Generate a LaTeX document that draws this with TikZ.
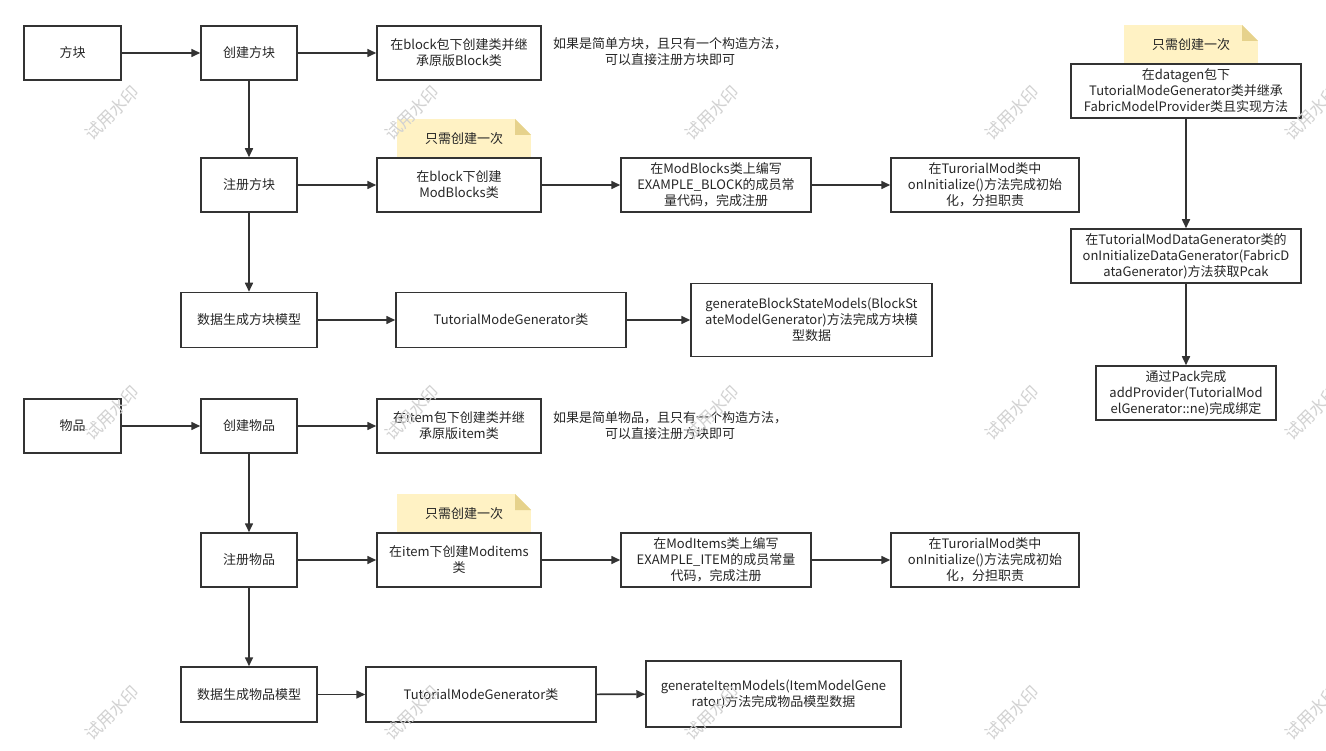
\documentclass[tikz,border=0pt]{standalone}
\usepackage{fontspec}
\setmainfont{Noto Sans CJK SC}
\usepackage{xcolor}
\usetikzlibrary{arrows.meta, positioning}
\definecolor{linegray}{HTML}{333333}
\definecolor{notey}{HTML}{FFF2C4}
\definecolor{notefold}{HTML}{E6D28C}
\tikzset{every node/.style={align=center}}

\begin{document}
\begin{tikzpicture}[x=1pt,y=-1pt,
    box/.style={draw=linegray, line width=1.5pt, fill=white, minimum height=54pt,
                inner sep=2pt, font=\fontsize{13}{16}\selectfont, text=black!85},
    plain/.style={font=\fontsize{13}{16}\selectfont, text=black!85},
    arr/.style={draw=linegray, line width=1.6pt, -{Triangle[length=9pt,width=8pt]}},
    note/.style={fill=notey, minimum width=134pt, minimum height=39pt,
                 font=\fontsize{13}{16}\selectfont, text=black!85,
                 path picture={
                   \fill[white] ([xshift=-16pt]path picture bounding box.north east)
                     -- (path picture bounding box.north east)
                     -- ([yshift=-16pt]path picture bounding box.north east) -- cycle;
                   \fill[notefold] ([xshift=-16pt]path picture bounding box.north east)
                     -- ([xshift=-16pt,yshift=-16pt]path picture bounding box.north east)
                     -- ([yshift=-16pt]path picture bounding box.north east) -- cycle;}},
    wm/.style={rotate=45, text=gray!35, font=\fontsize{17}{17}\selectfont}
]
  \useasboundingbox[fill=white] (0,0) rectangle (1326,751);
  % Blocks
  \node (fk)    at (72.5,53)  [box, minimum width=97pt]  {方块};
  \node (cjfk)  at (249,53)   [box, minimum width=96pt]  {创建方块};
  \node (fkA)   at (459,53)   [box, minimum width=164pt] {在block包下创建类并继\\承原版Block类};
  \node (fkTip) at (670,52)   [plain] {如果是简单方块，且只有一个构造方法，\\可以直接注册方块即可};
  \node (fkNote) at (464,138.5) [note] {只需创建一次};
  \node (zcfk)  at (249,185)  [box, minimum width=96pt]  {注册方块};
  \node (fkB)   at (459,185)  [box, minimum width=164pt] {在block下创建\\ModBlocks类};
  \node (fkC)   at (716,185)  [box, minimum width=190pt] {在ModBlocks类上编写\\EXAMPLE\_BLOCK的成员常\\量代码，完成注册};
  \node (fkD)   at (985,185)  [box, minimum width=188pt] {在TurorialMod类中\\onInitialize()方法完成初始\\化，分担职责};
  \node (sjfk)  at (249,320)  [box, minimum width=136pt, minimum height=55pt] {数据生成方块模型};
  \node (fkE)   at (511,320)  [box, minimum width=230pt, minimum height=55pt] {TutorialModeGenerator类};
  \node (fkF)   at (811.5,320) [box, minimum width=241pt, minimum height=73pt] {generateBlockStateModels(BlockSt\\ateModelGenerator)方法完成方块模\\型数据};
  % Datagen
  \node (dgNote) at (1191,44.5) [note] {只需创建一次};
  \node (dgA)   at (1186,91)  [box, minimum width=230pt] {在datagen包下\\TutorialModeGenerator类并继承\\FabricModelProvider类且实现方法};
  \node (dgB)   at (1186,256) [box, minimum width=230pt] {在TutorialModDataGenerator类的\\onInitializeDataGenerator(FabricD\\ataGenerator)方法获取Pcak};
  \node (dgC)   at (1186,393) [box, minimum width=180pt] {通过Pack完成\\addProvider(TutorialMod\\elGenerator::ne)完成绑定};
  % Items
  \node (wp)    at (72.5,426) [box, minimum width=97pt]  {物品};
  \node (cjwp)  at (249,426)  [box, minimum width=96pt]  {创建物品};
  \node (wpA)   at (459,426)  [box, minimum width=164pt] {在item包下创建类并继\\承原版item类};
  \node (wpTip) at (670,426)  [plain] {如果是简单物品，且只有一个构造方法，\\可以直接注册方块即可};
  \node (wpNote) at (464,513.5) [note] {只需创建一次};
  \node (zcwp)  at (249,560)  [box, minimum width=96pt]  {注册物品};
  \node (wpB)   at (459,560)  [box, minimum width=164pt] {在item下创建Moditems\\类};
  \node (wpC)   at (716,560)  [box, minimum width=190pt] {在ModItems类上编写\\EXAMPLE\_ITEM的成员常量\\代码，完成注册};
  \node (wpD)   at (985,560)  [box, minimum width=188pt] {在TurorialMod类中\\onInitialize()方法完成初始\\化，分担职责};
  \node (sjwp)  at (249,694.5) [box, minimum width=136pt, minimum height=55pt] {数据生成物品模型};
  \node (wpE)   at (481,694.5) [box, minimum width=230pt, minimum height=55pt] {TutorialModeGenerator类};
  \node (wpF)   at (773.5,694) [box, minimum width=255pt, minimum height=66pt] {generateItemModels(ItemModelGene\\rator)方法完成物品模型数据};
  % Arrows
  \draw[arr] (fk) -- (cjfk);
  \draw[arr] (cjfk) -- (fkA);
  \draw[arr] (cjfk) -- (zcfk);
  \draw[arr] (zcfk) -- (fkB);
  \draw[arr] (fkB) -- (fkC);
  \draw[arr] (fkC) -- (fkD);
  \draw[arr] (zcfk) -- (sjfk);
  \draw[arr] (sjfk) -- (fkE);
  \draw[arr] (fkE) -- (fkF);
  \draw[arr] (dgA) -- (dgB);
  \draw[arr] (dgB) -- (dgC);
  \draw[arr] (wp) -- (cjwp);
  \draw[arr] (cjwp) -- (wpA);
  \draw[arr] (cjwp) -- (zcwp);
  \draw[arr] (zcwp) -- (wpB);
  \draw[arr] (wpB) -- (wpC);
  \draw[arr] (wpC) -- (wpD);
  \draw[arr] (zcwp) -- (sjwp);
  \draw[arr] (sjwp) -- (wpE);
  \draw[arr] (wpE) -- (wpF);
  % Watermarks
  \foreach \x in {112,412,712,1012,1312}
    \foreach \y in {113,413,713}
      \node[wm] (wm-\x-\y) at (\x,\y) {试用水印};
\end{tikzpicture}
\end{document}
